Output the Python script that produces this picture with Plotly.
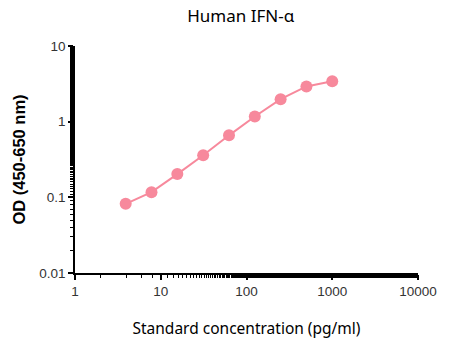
import plotly.graph_objects as go

concentration = [3.9, 7.8, 15.6, 31.25, 62.5, 125, 250, 500, 1000]
od = [0.082, 0.117, 0.203, 0.36, 0.66, 1.17, 1.98, 2.92, 3.42]

x_ticks = [1, 10, 100, 1000, 10000]
x_tick_labels = ["1", "10", "100", "1000", "10000"]
y_ticks = [0.01, 0.1, 1, 10]
y_tick_labels = ["0.01", "0.1", "1", "10"]

pink = "#F7899C"
font = "Noto Sans, Open Sans, sans-serif"
arial = "Liberation Sans, Arial, sans-serif"

fig = go.Figure()
fig.add_trace(go.Scatter(
    x=concentration, y=od, mode="lines+markers",
    line=dict(color=pink, width=2),
    marker=dict(color=pink, size=12),
    showlegend=False,
))

axis_common = dict(
    type="log", showgrid=False, zeroline=False, showline=True,
    linecolor="black", linewidth=1.5, ticks="outside", ticklen=5,
    tickwidth=1.5, tickcolor="black",
    tickfont=dict(family=arial, size=13.5, color="#333333"),
    minor=dict(ticks="outside", ticklen=3, tickwidth=1, tickcolor="black", showgrid=False),
)

fig.update_xaxes(
    range=[0, 4], tickvals=x_ticks, ticktext=x_tick_labels,
    title=dict(text="Standard concentration (pg/ml)", font=dict(family=font, size=15.5, color="black"), standoff=25),
    **axis_common,
)
fig.update_yaxes(
    range=[-2, 1], tickvals=y_ticks, ticktext=y_tick_labels,
    title=dict(text="<b>OD (450-650 nm)</b>", font=dict(family=arial, size=16.5, color="black"), standoff=9),
    **axis_common,
)

fig.update_layout(
    width=450, height=347,
    margin=dict(l=75, r=32, t=46, b=74),
    plot_bgcolor="white", paper_bgcolor="white",
    title=dict(text="Human IFN-α", x=0.535, xanchor="center", y=0.955, yanchor="middle",
               font=dict(family=font, size=17, color="black")),
)

fig.write_html("out.html")
